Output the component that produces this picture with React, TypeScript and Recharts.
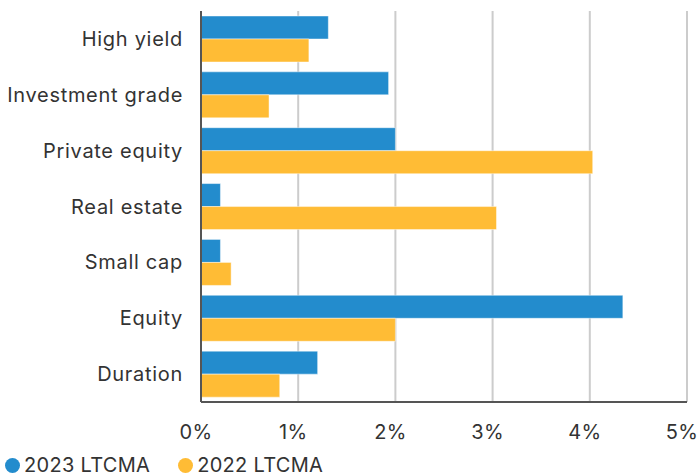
import React from "react";
import { BarChart, Bar, XAxis, YAxis, CartesianGrid, Legend } from "recharts";

const categories = [
  "High yield",
  "Investment grade",
  "Private equity",
  "Real estate",
  "Small cap",
  "Equity",
  "Duration",
];
const ltcma2023 = [1.31, 1.93, 2.0, 0.2, 0.2, 4.34, 1.2];
const ltcma2022 = [1.11, 0.7, 4.03, 3.04, 0.31, 2.0, 0.81];
const xTicks = [0, 1, 2, 3, 4, 5];
const seriesNames = ["2023 LTCMA", "2022 LTCMA"];

const BLUE = "#238ccd";
const YELLOW = "#ffbc35";
const FONT = "Inter, 'Noto Sans', sans-serif";

const data = categories.map((name, i) => ({
  name,
  y2023: ltcma2023[i],
  y2022: ltcma2022[i],
}));

const renderLegend = (props: any) => {
  const payload = [...(props.payload || [])].sort(
    (a: any, b: any) => seriesNames.indexOf(a.value) - seriesNames.indexOf(b.value)
  );
  return (
    <div style={{ display: "flex", alignItems: "center", fontFamily: FONT, fontSize: 20, color: "#333", letterSpacing: 0.3 }}>
      {payload.map((entry: any, i: number) => (
        <div key={`item-${i}`} style={{ display: "flex", alignItems: "center", marginRight: 28 }}>
          <svg width={15} height={15} style={{ marginRight: 4 }}>
            <circle cx={7.5} cy={7.5} r={7.5} fill={entry.color} />
          </svg>
          <span>{entry.value}</span>
        </div>
      ))}
    </div>
  );
};

export default function App() {
  return (
    <div style={{ position: "absolute", left: 0, top: 0, background: "#fff" }}>
      <BarChart
        width={697}
        height={476}
        data={data}
        layout="vertical"
        margin={{ top: 11, right: 10, bottom: 0, left: 0 }}
        barCategoryGap={5}
        barGap={0}
      >
        <CartesianGrid horizontal={false} stroke="#cccccc" strokeWidth={2} />
        <XAxis
          type="number"
          domain={[0, 5]}
          ticks={xTicks}
          tickFormatter={(v: number) => `${v}%`}
          height={40}
          tickLine={false}
          axisLine={{ stroke: "#555", strokeWidth: 2 }}
          tick={{ fill: "#333", fontSize: 20, fontFamily: FONT, dx: -5, letterSpacing: 0.3 }}
          tickMargin={17}
          interval={0}
        />
        <YAxis
          type="category"
          dataKey="name"
          width={201}
          tickLine={false}
          axisLine={{ stroke: "#555", strokeWidth: 2 }}
          tick={{ fill: "#333", fontSize: 20, fontFamily: FONT, letterSpacing: 0.7 }}
          tickMargin={12}
          interval={0}
        />
        <Legend
          verticalAlign="bottom"
          align="left"
          height={34}
          content={renderLegend}
          wrapperStyle={{ left: 5, top: 453, bottom: "auto" }}
        />
        <Bar dataKey="y2023" name="2023 LTCMA" fill={BLUE} stroke="rgba(255,255,255,0.45)" strokeWidth={1} isAnimationActive={false} />
        <Bar dataKey="y2022" name="2022 LTCMA" fill={YELLOW} stroke="rgba(255,255,255,0.45)" strokeWidth={1} isAnimationActive={false} />
      </BarChart>
    </div>
  );
}
